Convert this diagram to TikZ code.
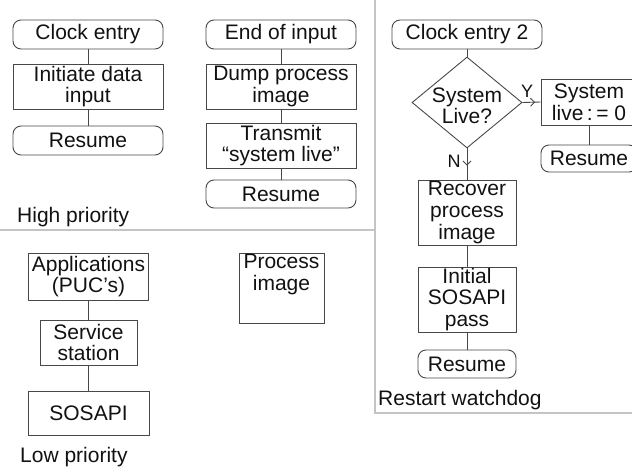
\documentclass[tikz,border=0pt]{standalone}
\usepackage{fontspec}
\setmainfont{Liberation Sans}
\usetikzlibrary{shapes.geometric,arrows.meta,decorations.markings}
\definecolor{ln}{HTML}{484848}
\definecolor{dv}{HTML}{C4C4C4}
\definecolor{tx}{HTML}{111111}
\begin{document}
\begin{tikzpicture}[x=1pt,y=-1pt, font=\fontsize{21}{21.7}\selectfont, text=tx,
  box/.style={draw=ln, line width=0.9pt, inner sep=1pt, align=center},
  rbox/.style={box, rounded corners=8pt},
  conn/.style={draw=ln, line width=0.9pt},
  div/.style={draw=dv, line width=1.4pt},
  lbl/.style={font=\fontsize{18}{20}\selectfont},
  ttl/.style={anchor=west, inner sep=0pt},
  midarrow/.style={postaction={decorate}, decoration={markings, mark=at position #1 with {\arrow{Straight Barb[length=4pt,width=8pt]}}}}]
\useasboundingbox (0,0) rectangle (632,466);
\clip (0,0) rectangle (632,466);
% dividers
\draw[div] (0,230) -- (375,230);
\draw[div] (375,0) -- (375,413) -- (640,413);
% high priority, column 1
\node[rbox, minimum width=150, minimum height=29] (ce1) at (88,34.5) {Clock entry};
\node[box, minimum width=150, minimum height=45] (ida) at (88,86.5) {Initiate data\\input};
\node[rbox, minimum width=150, minimum height=29] (res1) at (88,140.5) {Resume};
\node[ttl] (hp) at (17,217) {High priority};
% high priority, column 2
\node[rbox, minimum width=150, minimum height=29] (eoi) at (281,34.5) {End of input};
\node[box, minimum width=150, minimum height=45] (dpi) at (281,86.5) {Dump process\\image};
\node[box, minimum width=150, minimum height=45] (tsl) at (281,145.5) {Transmit\\“system live”};
\node[rbox, minimum width=150, minimum height=28] (res2) at (281,194) {Resume};
% restart watchdog
\node[rbox, minimum width=150, minimum height=29] (ce2) at (467,34.5) {Clock entry 2};
\node[draw=ln, line width=0.9pt, diamond, minimum width=110, minimum height=91, inner sep=0pt] (dia) at (467,102.5) {};
\node[align=center, inner sep=0pt, font=\fontsize{21}{20.5}\selectfont] (diat) at (467,106) {System\\Live?};
\node[box, minimum width=96, minimum height=46] (sl) at (589,102) {System\\live\,:\,= 0};
\node[rbox, minimum width=96, minimum height=27] (res3) at (589,158.5) {Resume};
\node[box, minimum width=98, minimum height=65] (rec) at (467,212.5) {Recover\\process\\image};
\node[box, minimum width=98, minimum height=65] (isp) at (467,299.5) {Initial\\SOSAPI\\pass};
\node[rbox, minimum width=98, minimum height=28] (res4) at (467,364) {Resume};
\node[ttl] (rw) at (378,400) {Restart watchdog};
\node[lbl] (ylab) at (527,91) {Y};
\node[lbl] (nlab) at (454,161) {N};
% low priority
\node[box, minimum width=120, minimum height=47] (app) at (88.5,276.5) {Applications\\(PUC’s)};
\node[box, minimum width=97, minimum height=45] (ss) at (88.5,342.5) {Service\\station};
\node[box, minimum width=121, minimum height=44] (sos) at (88.5,413) {SOSAPI};
\node[ttl] (lp) at (20,457) {Low priority};
\node[box, minimum width=85, minimum height=70] (pi) at (281.5,288) {};
\node[align=center, anchor=north, inner sep=0pt] (pit) at (281.5,254) {Process\\image};
% connectors
\draw[conn] (ce1) -- (ida);
\draw[conn] (ida) -- (res1);
\draw[conn] (eoi) -- (dpi);
\draw[conn] (dpi) -- (tsl);
\draw[conn] (tsl) -- (res2);
\draw[conn] (ce2) -- (dia);
\draw[conn, midarrow=0.7] (dia.east) -- (sl.west);
\draw[conn] (sl) -- (res3);
\draw[conn, midarrow=0.55] (dia.south) -- (rec.north);
\draw[conn] (rec) -- (isp);
\draw[conn] (isp) -- (res4);
\draw[conn] (app) -- (ss);
\draw[conn] (ss) -- (sos);
\end{tikzpicture}
\end{document}
